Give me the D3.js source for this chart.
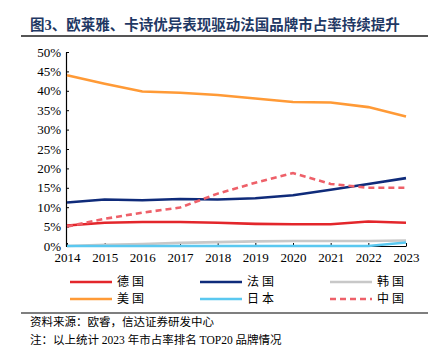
<!DOCTYPE html>
<html><head><meta charset="utf-8">
<script src="https://cdn.jsdelivr.net/npm/d3@7/dist/d3.min.js"></script>
<style>
body{margin:0;background:#fff;}
svg text{font-family:"Liberation Serif","Times New Roman","Noto Sans CJK SC",serif;}
</style></head>
<body><svg id="c" width="438" height="352"></svg>
<script>
const years = [2014,2015,2016,2017,2018,2019,2020,2021,2022,2023];
const germany = [5.3,6.0,6.2,6.2,6.0,5.7,5.6,5.6,6.3,6.0];
const france  = [11.2,12.0,11.8,12.1,12.0,12.3,13.1,14.5,16.0,17.5];
const korea   = [0.0,0.3,0.5,0.8,1.0,1.2,1.3,1.3,1.3,1.4];
const usa     = [44.0,41.8,39.8,39.5,38.9,38.0,37.1,37.0,35.8,33.4];
const japan   = [0,0,0,0,0,0,0,0,0,0.9];
const china   = [5.0,7.0,8.6,9.9,13.5,16.3,18.8,16.0,15.0,15.0];
const yTicks = [0,5,10,15,20,25,30,35,40,45,50];
const seriesNames = ["德国","法国","韩国","美国","日本","中国"];
const seriesData = [germany, france, korea, usa, japan, china];
const seriesColors = ["#E3262B","#0F2B7A","#C8C8C8","#FF9A36","#5AC8F0","#EE6069"];
const seriesDash = [null,null,null,null,null,"6,4"];
const titleText = "图3、欧莱雅、卡诗优异表现驱动法国品牌市占率持续提升";
const notes = ["资料来源：欧睿，信达证券研发中心","注：以上统计 2023 年市占率排名 TOP20 品牌情况"];

const svg = d3.select("#c");
const x = d3.scalePoint().domain(years).range([67,406]);
const y = d3.scaleLinear().domain([0,50]).range([246,52]);

// title
svg.append("text").attr("x",30).attr("y",30).attr("fill","#1F3864")
  .attr("font-size",14.5).attr("font-weight","bold").text(titleText);
svg.append("line").attr("x1",21).attr("x2",428).attr("y1",36).attr("y2",36)
  .attr("stroke","#555").attr("stroke-width",2);

// y axis
const ya = svg.append("g").attr("transform","translate(66,0)")
  .call(d3.axisLeft(y).tickValues(yTicks).tickFormat(d=>d+"%").tickSizeInner(-3).tickSizeOuter(0).tickPadding(5));
ya.select(".domain").attr("stroke","#000").attr("stroke-width",1.2);
ya.selectAll(".tick line").attr("stroke","#000");
ya.selectAll("text").attr("font-size",13).attr("fill","#000")
  .style("font-family","'Liberation Serif','Times New Roman',serif");

// x axis
const xa = svg.append("g").attr("transform","translate(0,246)")
  .call(d3.axisBottom(x).tickSizeInner(-3).tickSizeOuter(0).tickPadding(7));
xa.select(".domain").attr("stroke","#000").attr("stroke-width",1.2);
xa.selectAll(".tick line").attr("stroke","#000");
xa.selectAll("text").attr("font-size",13).attr("fill","#000")
  .style("font-family","'Liberation Serif','Times New Roman',serif");

// lines
const line = d3.line().x((d,i)=>x(years[i])).y(d=>y(d));
const order = [2,4,0,1,3,5];
order.forEach(k=>{
  svg.append("path").datum(seriesData[k]).attr("d",line)
    .attr("fill","none").attr("stroke",seriesColors[k]).attr("stroke-width",2.6)
    .attr("stroke-dasharray",seriesDash[k]);
});

// legend
const lx = [70,200,330], ly = [282,299];
seriesNames.forEach((n,i)=>{
  const cx = lx[i%3], cy = ly[Math.floor(i/3)];
  svg.append("line").attr("x1",cx).attr("x2",cx+42).attr("y1",cy).attr("y2",cy)
    .attr("stroke",seriesColors[i]).attr("stroke-width",2.6).attr("stroke-dasharray",seriesDash[i]);
  svg.append("text").attr("x",cx+47).attr("y",cy+4).attr("font-size",12).attr("fill","#000")
    .style("font-family","'Noto Sans CJK SC',sans-serif").style("letter-spacing","3px").text(n);
});

// footer
svg.append("line").attr("x1",21).attr("x2",428).attr("y1",313).attr("y2",313)
  .attr("stroke","#555").attr("stroke-width",1.5);
notes.forEach((t,i)=>{
  svg.append("text").attr("x",30).attr("y",326+i*17.5).attr("font-size",11.5).attr("fill","#000")
    .style("font-family","'Liberation Serif','Noto Sans CJK SC',serif").text(t);
});
</script></body></html>
